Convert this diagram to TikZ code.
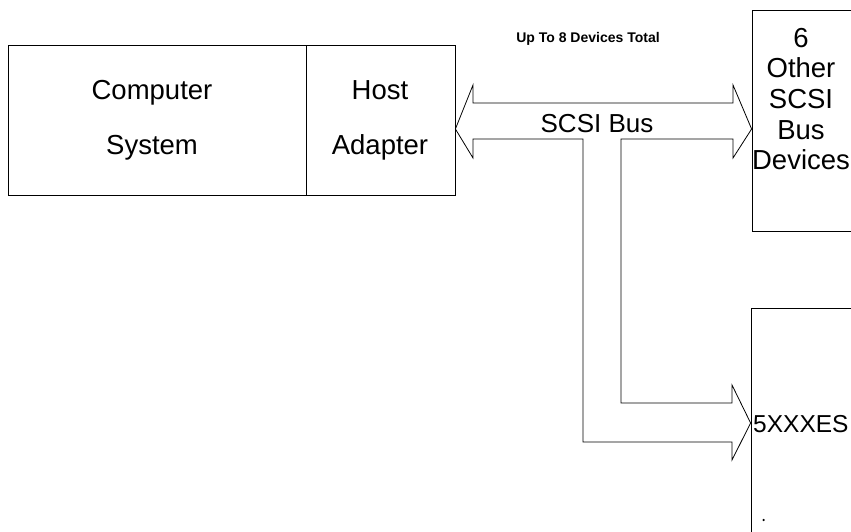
\documentclass[tikz,border=0pt]{standalone}
\usepackage{fontspec}
\setmainfont{Liberation Sans}
\tikzset{
  box/.style={draw, line width=0.8pt, inner sep=0pt},
  lbl/.style={align=center, inner sep=0pt, font=\fontsize{27.5}{55}\selectfont},
  small/.style={inner sep=0pt, font=\fontsize{14}{16}\selectfont\bfseries}
}
\begin{document}
\begin{tikzpicture}[x=1pt,y=-1pt]
\useasboundingbox (0,0) rectangle (851,531);
\node[box, minimum width=298pt, minimum height=150pt] (comp) at (157,120) {};
\node[box, minimum width=149pt, minimum height=150pt] (host) at (380.5,120) {};
\node[box, minimum width=130pt, minimum height=221pt] (others) at (817,120.5) {};
\node[box, minimum width=130pt, minimum height=260pt] (drive) at (816,438) {};
\node[lbl] (comptxt) at (152,120.5) {Computer\\System};
\node[lbl] (hosttxt) at (380,120.5) {Host\\Adapter};
\node[lbl, font=\fontsize{27.5}{30.7}\selectfont] (otherstxt) at (801,99) {6\\Other\\SCSI\\Bus\\Devices};
\node[lbl, anchor=west, font=\fontsize{24.5}{30}\selectfont] (drivetxt) at (753,424) {5XXXES};
\node[lbl, font=\fontsize{26}{30}\selectfont] (bustxt) at (597,124) {SCSI Bus};
\node[small] (total) at (588,39) {Up To 8 Devices Total};
\coordinate (ltip) at (host.east |- 0,129);
\coordinate (rtip) at (others.west |- 0,129);
\coordinate (dtip) at (drive.west |- 0,423);
\draw[line width=0.8pt] (ltip) -- (473,85) -- (473,103) -- (733,103) -- (733,85) -- (rtip)
  -- (733,158) -- (733,139) -- (621,139) -- (621,403) -- (732,403) -- (732,385) -- (dtip)
  -- (732,460) -- (732,442) -- (583,442) -- (583,139) -- (473,139) -- (473,158) -- cycle;
\fill (drive.west |- 0,520) ++(13,0) circle (1.2pt);
\end{tikzpicture}
\end{document}
